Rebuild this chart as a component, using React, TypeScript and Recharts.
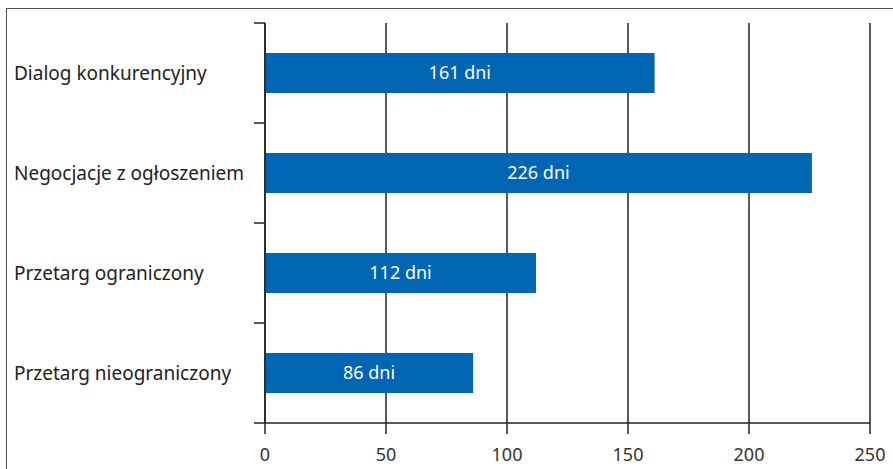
import { BarChart, Bar, XAxis, YAxis, CartesianGrid, LabelList } from 'recharts';

const categories = [
    'Dialog konkurencyjny',
    'Negocjacje z ogłoszeniem',
    'Przetarg ograniczony',
    'Przetarg nieograniczony',
];
const days = [161, 226, 112, 86];
const xTicks = [0, 50, 100, 150, 200, 250];

const data = categories.map((name, i) => ({ name, days: days[i] }));

const FONT = '"Noto Sans", sans-serif';

// category label on the left + boundary tick marks between the bands
function CategoryTick(props: any) {
    const { y, payload, index } = props;
    const half = payload.offset ?? 50;
    return (
        <g>
            <text x={14} y={y} textAnchor="start" dominantBaseline="central"
                  fontFamily={FONT} fontSize={19} fill="#222">
                {payload.value}
            </text>
            <line x1={254} x2={265} y1={y - half} y2={y - half} stroke="#222" strokeWidth={1.5} />
            {index === categories.length - 1 && (
                <line x1={254} x2={265} y1={y + half} y2={y + half} stroke="#222" strokeWidth={1.5} />
            )}
        </g>
    );
}

export default function App() {
    return (
        <div style={{ position: 'absolute', left: 0, top: 0, width: 893, height: 469, background: '#fff', overflow: 'hidden' }}>
            <div style={{ position: 'absolute', left: 6, top: 8, width: 1000, height: 1000, border: '1.5px solid #555' }} />
            <div style={{ position: 'absolute', left: 0, top: 0 }}>
                <BarChart
                    width={893}
                    height={469}
                    data={data}
                    layout="vertical"
                    margin={{ top: 23, right: 23, bottom: 0, left: 0 }}
                >
                    <CartesianGrid horizontal={false} stroke="#222" strokeWidth={1.5} />
                    <XAxis
                        type="number"
                        domain={[0, 250]}
                        ticks={xTicks}
                        height={46}
                        tickSize={11}
                        tickMargin={14}
                        axisLine={{ stroke: '#222', strokeWidth: 1.5 }}
                        tickLine={{ stroke: '#222', strokeWidth: 1.5 }}
                        tick={{ fontFamily: FONT, fontSize: 18, fill: '#333' }}
                    />
                    <YAxis
                        type="category"
                        dataKey="name"
                        width={265}
                        tickLine={false}
                        axisLine={{ stroke: '#222', strokeWidth: 1.5 }}
                        tick={<CategoryTick />}
                    />
                    <Bar dataKey="days" fill="#0065B3" barSize={40} isAnimationActive={false}>
                        <LabelList
                            dataKey="days"
                            position="center"
                            formatter={(v: any) => `${v} dni`}
                            style={{ fontFamily: FONT, fontSize: 18, fill: '#fff' }}
                        />
                    </Bar>
                </BarChart>
            </div>
        </div>
    );
}
